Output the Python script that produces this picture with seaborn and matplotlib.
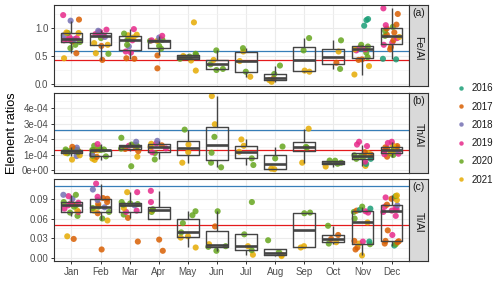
import numpy as np
import pandas as pd
import matplotlib
matplotlib.use("Agg")
import matplotlib.pyplot as plt
import seaborn as sns
from matplotlib.lines import Line2D

MONTHS = ["Jan", "Feb", "Mar", "Apr", "May", "Jun",
          "Jul", "Aug", "Sep", "Oct", "Nov", "Dec"]
YEARS = ["2016", "2017", "2018", "2019", "2020", "2021"]
YEAR_COLORS = ["#1B9E77", "#D95F02", "#7570B3", "#E7298A", "#66A61E", "#E6AB02"]

# (value, year) for every sample
fe_al = {
    "Jan": [(0.46, 2021), (0.55, 2017), (0.64, 2020), (0.70, 2020), (0.75, 2020), (0.76, 2017),
            (0.77, 2020), (0.78, 2019), (0.79, 2019), (0.80, 2019), (0.80, 2018), (0.82, 2019),
            (0.84, 2019), (0.87, 2018), (0.91, 2020), (0.91, 2021), (0.92, 2021), (1.13, 2018),
            (1.15, 2017), (1.23, 2019)],
    "Feb": [(0.43, 2017), (0.54, 2020), (0.55, 2021), (0.68, 2017), (0.70, 2021), (0.73, 2021),
            (0.82, 2020), (0.84, 2018), (0.87, 2019), (0.88, 2019), (0.89, 2019), (0.90, 2018),
            (0.92, 2019), (0.93, 2019), (0.95, 2018), (0.97, 2019)],
    "Mar": [(0.45, 2017), (0.46, 2017), (0.56, 2019), (0.58, 2019), (0.67, 2018), (0.70, 2020),
            (0.78, 2019), (0.79, 2020), (0.80, 2020), (0.83, 2021), (0.87, 2021), (0.88, 2021),
            (0.90, 2020), (0.98, 2019)],
    "Apr": [(0.28, 2017), (0.51, 2017), (0.63, 2020), (0.68, 2020), (0.77, 2021), (0.77, 2020),
            (0.78, 2019), (0.79, 2020), (0.83, 2018), (0.86, 2019)],
    "May": [(0.24, 2021), (0.42, 2021), (0.45, 2020), (0.48, 2020), (0.49, 2020), (0.50, 2021),
            (0.52, 2020), (0.54, 2020), (1.10, 2021)],
    "Jun": [(0.25, 2020), (0.27, 2020), (0.35, 2020), (0.43, 2021), (0.60, 2020)],
    "Jul": [(0.13, 2021), (0.22, 2020), (0.41, 2021), (0.58, 2021), (0.64, 2020)],
    "Aug": [(0.04, 2021), (0.07, 2021), (0.10, 2017), (0.18, 2020), (0.33, 2020)],
    "Sep": [(0.22, 2021), (0.24, 2021), (0.60, 2020), (0.82, 2020)],
    "Oct": [(0.27, 2020), (0.38, 2017), (0.58, 2021), (0.78, 2020)],
    "Nov": [(0.17, 2021), (0.32, 2021), (0.43, 2017), (0.44, 2017), (0.48, 2020), (0.56, 2020),
            (0.60, 2019), (0.62, 2019), (0.62, 2021), (0.65, 2019), (0.67, 2020), (0.70, 2020),
            (1.04, 2016), (1.14, 2016), (1.16, 2016)],
    "Dec": [(0.44, 2016), (0.45, 2016), (0.62, 2017), (0.66, 2017), (0.70, 2019), (0.74, 2019),
            (0.78, 2017), (0.82, 2019), (0.84, 2021), (0.86, 2020), (0.88, 2017), (0.92, 2017),
            (0.95, 2020), (0.99, 2017), (1.02, 2020), (1.05, 2019), (1.06, 2017), (1.25, 2017),
            (1.35, 2019)],
}

# Th/Al in units of 1e-4
th_al = {
    "Jan": [(0.67, 2021), (0.90, 2018), (0.95, 2021), (1.08, 2020), (1.10, 2021), (1.15, 2020),
            (1.20, 2017), (1.22, 2020), (1.25, 2020), (1.28, 2019), (1.30, 2020), (1.33, 2020),
            (1.35, 2020), (1.45, 2018), (1.50, 2017)],
    "Feb": [(0.65, 2021), (0.73, 2021), (0.85, 2017), (0.88, 2020), (0.92, 2020), (1.00, 2018),
            (1.27, 2021), (1.28, 2018), (1.28, 2017), (1.29, 2020), (1.30, 2020), (1.33, 2020),
            (1.45, 2020), (1.57, 2020), (1.68, 2019)],
    "Mar": [(0.24, 2020), (0.86, 2021), (1.22, 2017), (1.36, 2017), (1.38, 2020), (1.50, 2021),
            (1.55, 2020), (1.57, 2019), (1.60, 2019), (1.62, 2020), (1.65, 2020), (1.83, 2018),
            (2.09, 2020)],
    "Apr": [(0.68, 2020), (1.10, 2020), (1.15, 2019), (1.40, 2019), (1.50, 2021), (1.60, 2017),
            (1.70, 2021), (1.72, 2019), (1.89, 2018)],
    "May": [(0.47, 2021), (1.16, 2021), (1.65, 2021), (2.62, 2020)],
    "Jun": [(0.17, 2020), (0.47, 2020), (1.12, 2020), (2.15, 2020), (2.97, 2021), (4.80, 2021)],
    "Jul": [(0.32, 2020), (0.75, 2020), (1.18, 2021), (1.57, 2021), (1.98, 2021)],
    "Aug": [(0.05, 2021), (0.08, 2021), (0.75, 2020), (1.52, 2020)],
    "Sep": [(0.47, 2021), (1.45, 2020), (1.50, 2020), (2.68, 2021)],
    "Oct": [(0.22, 2021), (0.40, 2020), (0.47, 2020), (0.60, 2020), (0.61, 2020)],
    "Nov": [(0.26, 2021), (0.39, 2016), (0.54, 2019), (0.72, 2020), (0.72, 2016), (0.85, 2016),
            (0.90, 2020), (0.90, 2020), (0.95, 2020), (1.00, 2017), (1.10, 2021), (1.15, 2017),
            (1.55, 2019), (1.65, 2019), (1.83, 2019)],
    "Dec": [(0.86, 2017), (0.97, 2020), (1.02, 2019), (1.05, 2019), (1.08, 2020), (1.15, 2021),
            (1.25, 2019), (1.29, 2021), (1.30, 2018), (1.35, 2020), (1.40, 2017), (1.45, 2021),
            (1.47, 2017), (1.55, 2017), (1.60, 2021), (1.75, 2019), (1.83, 2019)],
}

ti_al = {
    "Jan": [(0.029, 2017), (0.033, 2021), (0.064, 2020), (0.069, 2020), (0.070, 2019), (0.072, 2021),
            (0.075, 2019), (0.078, 2020), (0.080, 2019), (0.080, 2020), (0.082, 2017), (0.083, 2019),
            (0.084, 2019), (0.085, 2020), (0.090, 2018), (0.094, 2019), (0.096, 2018), (0.096, 2020)],
    "Feb": [(0.013, 2017), (0.057, 2021), (0.060, 2020), (0.068, 2017), (0.070, 2020), (0.072, 2021),
            (0.076, 2020), (0.077, 2018), (0.078, 2020), (0.082, 2017), (0.085, 2017), (0.088, 2018),
            (0.090, 2017), (0.091, 2017), (0.093, 2019), (0.104, 2018), (0.113, 2019)],
    "Mar": [(0.025, 2017), (0.061, 2017), (0.066, 2020), (0.070, 2019), (0.072, 2019), (0.076, 2021),
            (0.080, 2018), (0.081, 2020), (0.082, 2020), (0.083, 2020), (0.085, 2020), (0.100, 2019),
            (0.100, 2021)],
    "Apr": [(0.011, 2017), (0.028, 2017), (0.070, 2020), (0.072, 2021), (0.073, 2020), (0.074, 2020),
            (0.085, 2019), (0.102, 2019)],
    "May": [(0.016, 2021), (0.031, 2021), (0.033, 2021), (0.039, 2020), (0.053, 2020), (0.065, 2020),
            (0.071, 2020)],
    "Jun": [(0.011, 2020), (0.017, 2020), (0.018, 2020), (0.021, 2021), (0.048, 2017), (0.071, 2020)],
    "Jul": [(0.005, 2021), (0.012, 2020), (0.018, 2021), (0.036, 2020), (0.085, 2020)],
    "Aug": [(0.003, 2021), (0.005, 2021), (0.009, 2020), (0.027, 2020)],
    "Sep": [(0.016, 2021), (0.018, 2021), (0.068, 2020), (0.069, 2020)],
    "Oct": [(0.022, 2020), (0.024, 2021), (0.029, 2017), (0.035, 2017), (0.049, 2020)],
    "Nov": [(0.004, 2021), (0.013, 2017), (0.016, 2017), (0.021, 2020), (0.022, 2021), (0.025, 2016),
            (0.025, 2019), (0.026, 2017), (0.054, 2021), (0.060, 2020), (0.069, 2019), (0.070, 2020),
            (0.071, 2019), (0.072, 2017), (0.073, 2016), (0.075, 2016), (0.078, 2020)],
    "Dec": [(0.019, 2016), (0.021, 2020), (0.022, 2017), (0.024, 2017), (0.0255, 2017), (0.026, 2017),
            (0.035, 2019), (0.042, 2017), (0.064, 2019), (0.070, 2019), (0.072, 2019), (0.074, 2019),
            (0.076, 2019), (0.078, 2019), (0.080, 2018), (0.081, 2017), (0.088, 2021), (0.090, 2017),
            (0.092, 2019), (0.094, 2020), (0.095, 2021)],
}

panel_tags = ["(a)", "(b)", "(c)"]
panel_names = ["Fe/Al", "Th/Al", "Ti/Al"]
red_line = [0.43, 1.29e-4, 0.0505]
blue_line = [0.59, 2.58e-4, 0.1095]

y_ticks = [[0.0, 0.5, 1.0],
           [0, 1e-4, 2e-4, 3e-4, 4e-4],
           [0.0, 0.03, 0.06, 0.09]]
y_tick_labels = [["0.0", "0.5", "1.0"],
                 ["0e+00", "1e-04", "2e-04", "3e-04", "4e-04"],
                 ["0.00", "0.03", "0.06", "0.09"]]
y_minor = [[0.25, 0.75, 1.25],
           [0.5e-4, 1.5e-4, 2.5e-4, 3.5e-4, 4.5e-4],
           [0.015, 0.045, 0.075, 0.105]]
y_limits = [(-0.035, 1.41), (-0.2e-4, 5.0e-4), (-0.0045, 0.120)]


def to_frame(panel, scale=1.0):
    rows = [(m, v * scale, str(y)) for m in MONTHS for v, y in panel[m]]
    return pd.DataFrame(rows, columns=["month", "value", "year"])


frames = [to_frame(fe_al), to_frame(th_al, 1e-4), to_frame(ti_al)]

sns.set_theme(style="white")
plt.rcParams["font.family"] = ["Liberation Sans", "DejaVu Sans"]
np.random.seed(7)

W, H = 500, 282
fig = plt.figure(figsize=(W / 100, H / 100), dpi=100)
palette = dict(zip(YEARS, YEAR_COLORS))

# panel boxes in pixels: (top, bottom)
rows_px = [(5, 86), (93, 173), (179, 261)]
x0, x1, sx1 = 54, 409, 428

for i, df in enumerate(frames):
    top, bot = rows_px[i]
    ax = fig.add_axes([x0 / W, (H - bot) / H, (x1 - x0) / W, (bot - top) / H])

    ax.axhline(red_line[i], color="#E41A1C", lw=0.9, zorder=1.5)
    ax.axhline(blue_line[i], color="#377EB8", lw=0.9, zorder=1.5)

    sns.stripplot(data=df, x="month", y="value", hue="year", order=MONTHS,
                  hue_order=YEARS, palette=palette, jitter=0.3, size=4.4,
                  alpha=0.85, linewidth=0, legend=False, zorder=2, ax=ax)
    sns.boxplot(data=df, x="month", y="value", order=MONTHS, fill=False,
                color="#444444", linewidth=1.0, width=0.75, showfliers=False,
                showcaps=False, medianprops={"linewidth": 1.9}, zorder=3, ax=ax)

    ax.set_xlim(-0.6, 11.6)
    ax.set_ylim(*y_limits[i])
    ax.set_yticks(y_ticks[i])
    ax.set_yticklabels(y_tick_labels[i])
    ax.set_yticks(y_minor[i], minor=True)
    ax.set_xlabel("")
    ax.set_ylabel("")
    ax.set_axisbelow(True)
    ax.grid(which="major", color="#EBEBEB", lw=0.8)
    ax.grid(which="minor", axis="y", color="#F2F2F2", lw=0.45)
    for s in ax.spines.values():
        s.set_color("#333333")
        s.set_linewidth(0.8)
    ax.tick_params(axis="y", which="major", length=2.5, width=0.7, color="#333333",
                   labelsize=7, labelcolor="#4D4D4D", pad=1.5, left=True)
    ax.tick_params(axis="y", which="minor", length=0)
    if i < 2:
        ax.tick_params(axis="x", bottom=False, labelbottom=False)
    else:
        ax.tick_params(axis="x", length=2.5, width=0.7, color="#333333", bottom=True,
                       labelsize=7, labelcolor="#4D4D4D", pad=1.5)

    # facet strip on the right
    st = fig.add_axes([x1 / W, (H - bot) / H, (sx1 - x1) / W, (bot - top) / H])
    st.set_facecolor("#D9D9D9")
    st.set_xticks([])
    st.set_yticks([])
    for s in st.spines.values():
        s.set_color("#333333")
        s.set_linewidth(0.8)
    st.text(0.5, 0.9, panel_tags[i], ha="center", va="center", fontsize=7.5,
            color="#1A1A1A", transform=st.transAxes)
    st.text(0.5, 0.47, panel_names[i], ha="center", va="center", fontsize=7.5,
            color="#1A1A1A", rotation=-90, transform=st.transAxes)

fig.text(12 / W, (H - 133) / H, "Element ratios", rotation=90, ha="center",
         va="center", fontsize=9.2, color="black")

handles = [Line2D([], [], ls="", marker="o", ms=3.2, mew=0, color=c, alpha=0.85)
           for c in YEAR_COLORS]
fig.legend(handles, YEARS, loc="center left", bbox_to_anchor=(447 / W, (H - 134) / H),
           frameon=False, fontsize=7, labelspacing=0.85, handlelength=1.0,
           handletextpad=0.6, labelcolor="#1A1A1A")

fig.savefig("out.png", dpi=100)
